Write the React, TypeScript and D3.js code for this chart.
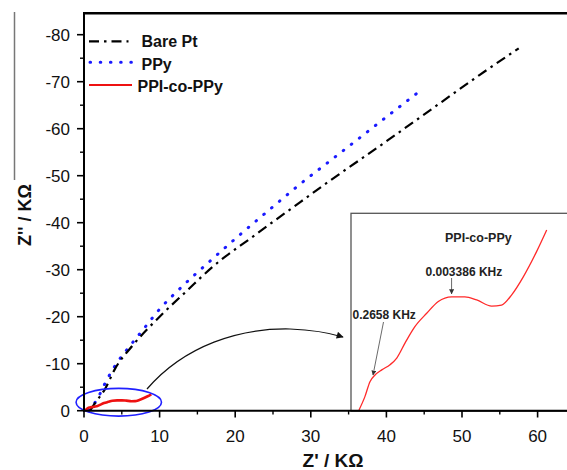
import React from "react";
import * as d3 from "d3";

// ---- data ----
const bareX = [0.8, 1.45, 2.78, 4.1, 6.5, 10.0, 13.6, 17.0, 22.3, 28.1, 32.5, 39.1, 44.8, 52.3, 57.5];
const bareY = [0, -1.6, -4.6, -8.9, -14.0, -20.0, -25.5, -30.6, -37.0, -43.8, -48.9, -56.3, -62.8, -71.4, -77.1];

const ppyX = [0.6, 1.68, 3.0, 4.53, 5.64, 7.84, 10.0, 12.7, 16.65, 20.6, 25.0, 28.5, 32.5, 36.5, 40.4, 44.5];
const ppyY = [0, -2.3, -6.5, -10.6, -12.9, -17.3, -21.6, -26.0, -31.8, -37.4, -43.4, -48.1, -53.1, -58.1, -63.0, -68.1];

const pcX = [0, 0.28, 0.52, 0.76, 1.08, 1.47, 1.79, 2.18, 2.65, 3.21, 3.76, 4.39, 5.02, 5.58, 6.29, 6.76, 7.24, 7.79, 8.42, 8.9];
const pcY = [0, -0.26, -0.55, -0.68, -0.78, -0.88, -1.01, -1.3, -1.62, -1.88, -2.11, -2.2, -2.2, -2.14, -2.02, -2.04, -2.24, -2.59, -3.08, -3.5];

const xTicks = [0, 10, 20, 30, 40, 50, 60];
const xMinor = [5, 15, 25, 35, 45, 55];
const yTicks = [0, -10, -20, -30, -40, -50, -60, -70, -80];
const yMinor = [-5, -15, -25, -35, -45, -55, -65, -75];

const legendLabels = ["Bare Pt", "PPy", "PPI-co-PPy"];
const freqLabels = ["0.2658 KHz", "0.003386 KHz"];
const freqIdx = [3, 11];

const W = 567, H = 470;
const FONT = "'Liberation Sans', Arial, sans-serif";

export default function App() {
  const x = d3.scaleLinear().domain([0, 60]).range([84, 537.6]);
  const y = d3.scaleLinear().domain([0, -80]).range([410.7, 34.7]);
  const xi = d3.scaleLinear().domain([0, 8.9]).range([359, 546.7]);
  const yi = d3.scaleLinear().domain([0, -3.5]).range([410, 230]);

  const zip = (a: number[], b: number[]) => a.map((v, i) => [v, b[i]] as [number, number]);
  const line = d3.line<[number, number]>().x(d => x(d[0])).y(d => y(d[1])).curve(d3.curveMonotoneX);
  const lineIn = d3.line<[number, number]>().x(d => xi(d[0])).y(d => yi(d[1])).curve(d3.curveMonotoneX);

  const bare = zip(bareX, bareY);
  const ppy = zip(ppyX, ppyY);
  const pc = zip(pcX, pcY);

  const p1 = [xi(pcX[freqIdx[0]]), yi(pcY[freqIdx[0]])];
  const p2 = [xi(pcX[freqIdx[1]]), yi(pcY[freqIdx[1]])];

  return (
    <svg width={W} height={H} style={{ position: "absolute", left: 0, top: 0, background: "#fff" }} fontFamily={FONT}>
      <defs>
        <marker id="ah" viewBox="0 0 10 10" refX="9" refY="5" markerWidth="9" markerHeight="7" orient="auto" markerUnits="userSpaceOnUse">
          <path d="M0,0 L10,5 L0,10 z" fill="#111" />
        </marker>
        <marker id="ah2" viewBox="0 0 10 10" refX="9" refY="5" markerWidth="5" markerHeight="5" orient="auto" markerUnits="userSpaceOnUse">
          <path d="M0,0 L10,5 L0,10 z" fill="#333" />
        </marker>
      </defs>
      <rect width={W} height={H} fill="#fff" />
      {/* stray panel border */}
      <line x1={14.5} y1={12} x2={14.5} y2={180} stroke="#777" strokeWidth={1.5} />

      {/* inset box */}
      <rect x={351} y={213.3} width={230} height={198} fill="#fff" stroke="#555" strokeWidth={1.3} />

      {/* curves */}
      <path d={line(ppy) || ""} fill="none" stroke="#1a1aff" strokeWidth={3} strokeDasharray="0.6,9.6" strokeLinecap="round" />
      <path d={line(bare) || ""} fill="none" stroke="#000" strokeWidth={2.2} strokeDasharray="10,5,2.5,5" />
      <path d={line(pc) || ""} fill="none" stroke="#ee1111" strokeWidth={2.6} />

      {/* ellipse highlight */}
      <ellipse cx={x(4.6)} cy={y(-1.8)} rx={x(5.65) - x(0)} ry={y(0) - y(-2.95)} fill="none" stroke="#2020ff" strokeWidth={1.6} />

      {/* curved arrow to inset */}
      <path d="M147,389 C185,345 240,328 290,329 C315,330 330,333 343,337" fill="none" stroke="#111" strokeWidth={1.2} markerEnd="url(#ah)" />

      {/* inset curve */}
      <path d={lineIn(pc) || ""} fill="none" stroke="#ff2a2a" strokeWidth={1.3} />
      <text x={445} y={241.5} fontSize={12.5} fontWeight="bold" fill="#222">PPI-co-PPy</text>
      <text x={425.5} y={275.5} fontSize={12} fontWeight="bold" fill="#222">{freqLabels[1]}</text>
      <line x1={p2[0]} y1={278} x2={p2[0]} y2={p2[1] - 3} stroke="#444" strokeWidth={0.8} markerEnd="url(#ah2)" />
      <text x={352.5} y={318.5} fontSize={12} fontWeight="bold" fill="#222">{freqLabels[0]}</text>
      <line x1={383.5} y1={322} x2={p1[0] - 2} y2={p1[1]} stroke="#444" strokeWidth={0.8} markerEnd="url(#ah2)" />

      {/* axes */}
      <line x1={83} y1={13.3} x2={W} y2={13.3} stroke="#000" strokeWidth={2.6} />
      <line x1={84} y1={12} x2={84} y2={411.7} stroke="#000" strokeWidth={2} />
      <line x1={83} y1={410.7} x2={W} y2={410.7} stroke="#000" strokeWidth={2} />

      {yTicks.map(t => (
        <g key={"yt" + t}>
          <line x1={77} x2={84} y1={y(t)} y2={y(t)} stroke="#000" strokeWidth={1.6} />
          <text x={70} y={y(t) + 6} fontSize={17} textAnchor="end" fill="#111">{t}</text>
        </g>
      ))}
      {yMinor.map(t => (
        <line key={"ym" + t} x1={80} x2={84} y1={y(t)} y2={y(t)} stroke="#000" strokeWidth={1.4} />
      ))}
      {xTicks.map(t => (
        <g key={"xt" + t}>
          <line x1={x(t)} x2={x(t)} y1={410.7} y2={417.5} stroke="#000" strokeWidth={1.6} />
          <text x={x(t)} y={441.5} fontSize={17} textAnchor="middle" fill="#111">{t}</text>
        </g>
      ))}
      {xMinor.map(t => (
        <line key={"xm" + t} x1={x(t)} x2={x(t)} y1={410.7} y2={414.5} stroke="#000" strokeWidth={1.4} />
      ))}

      {/* axis titles */}
      <text x={333} y={467} fontSize={19} fontWeight="bold" textAnchor="middle" fill="#111">Z' / KΩ</text>
      <text transform="translate(31,215) rotate(-90)" fontSize={18} fontWeight="bold" textAnchor="middle" fill="#111">Z'' / KΩ</text>

      {/* legend */}
      <line x1={89} x2={128.5} y1={41.3} y2={41.3} stroke="#000" strokeWidth={2.2} strokeDasharray="10,5,2.5,5" />
      <text x={141.5} y={46.5} fontSize={16} fontWeight="bold" fill="#111">{legendLabels[0]}</text>
      <line x1={90} x2={132} y1={62.3} y2={62.3} stroke="#1a1aff" strokeWidth={3} strokeDasharray="0.6,9.6" strokeLinecap="round" />
      <text x={141.5} y={69.5} fontSize={16} fontWeight="bold" fill="#111">{legendLabels[1]}</text>
      <line x1={89} x2={132} y1={85} y2={85} stroke="#ee1111" strokeWidth={2.2} />
      <text x={137.5} y={91.5} fontSize={16} fontWeight="bold" fill="#111">{legendLabels[2]}</text>
    </svg>
  );
}
